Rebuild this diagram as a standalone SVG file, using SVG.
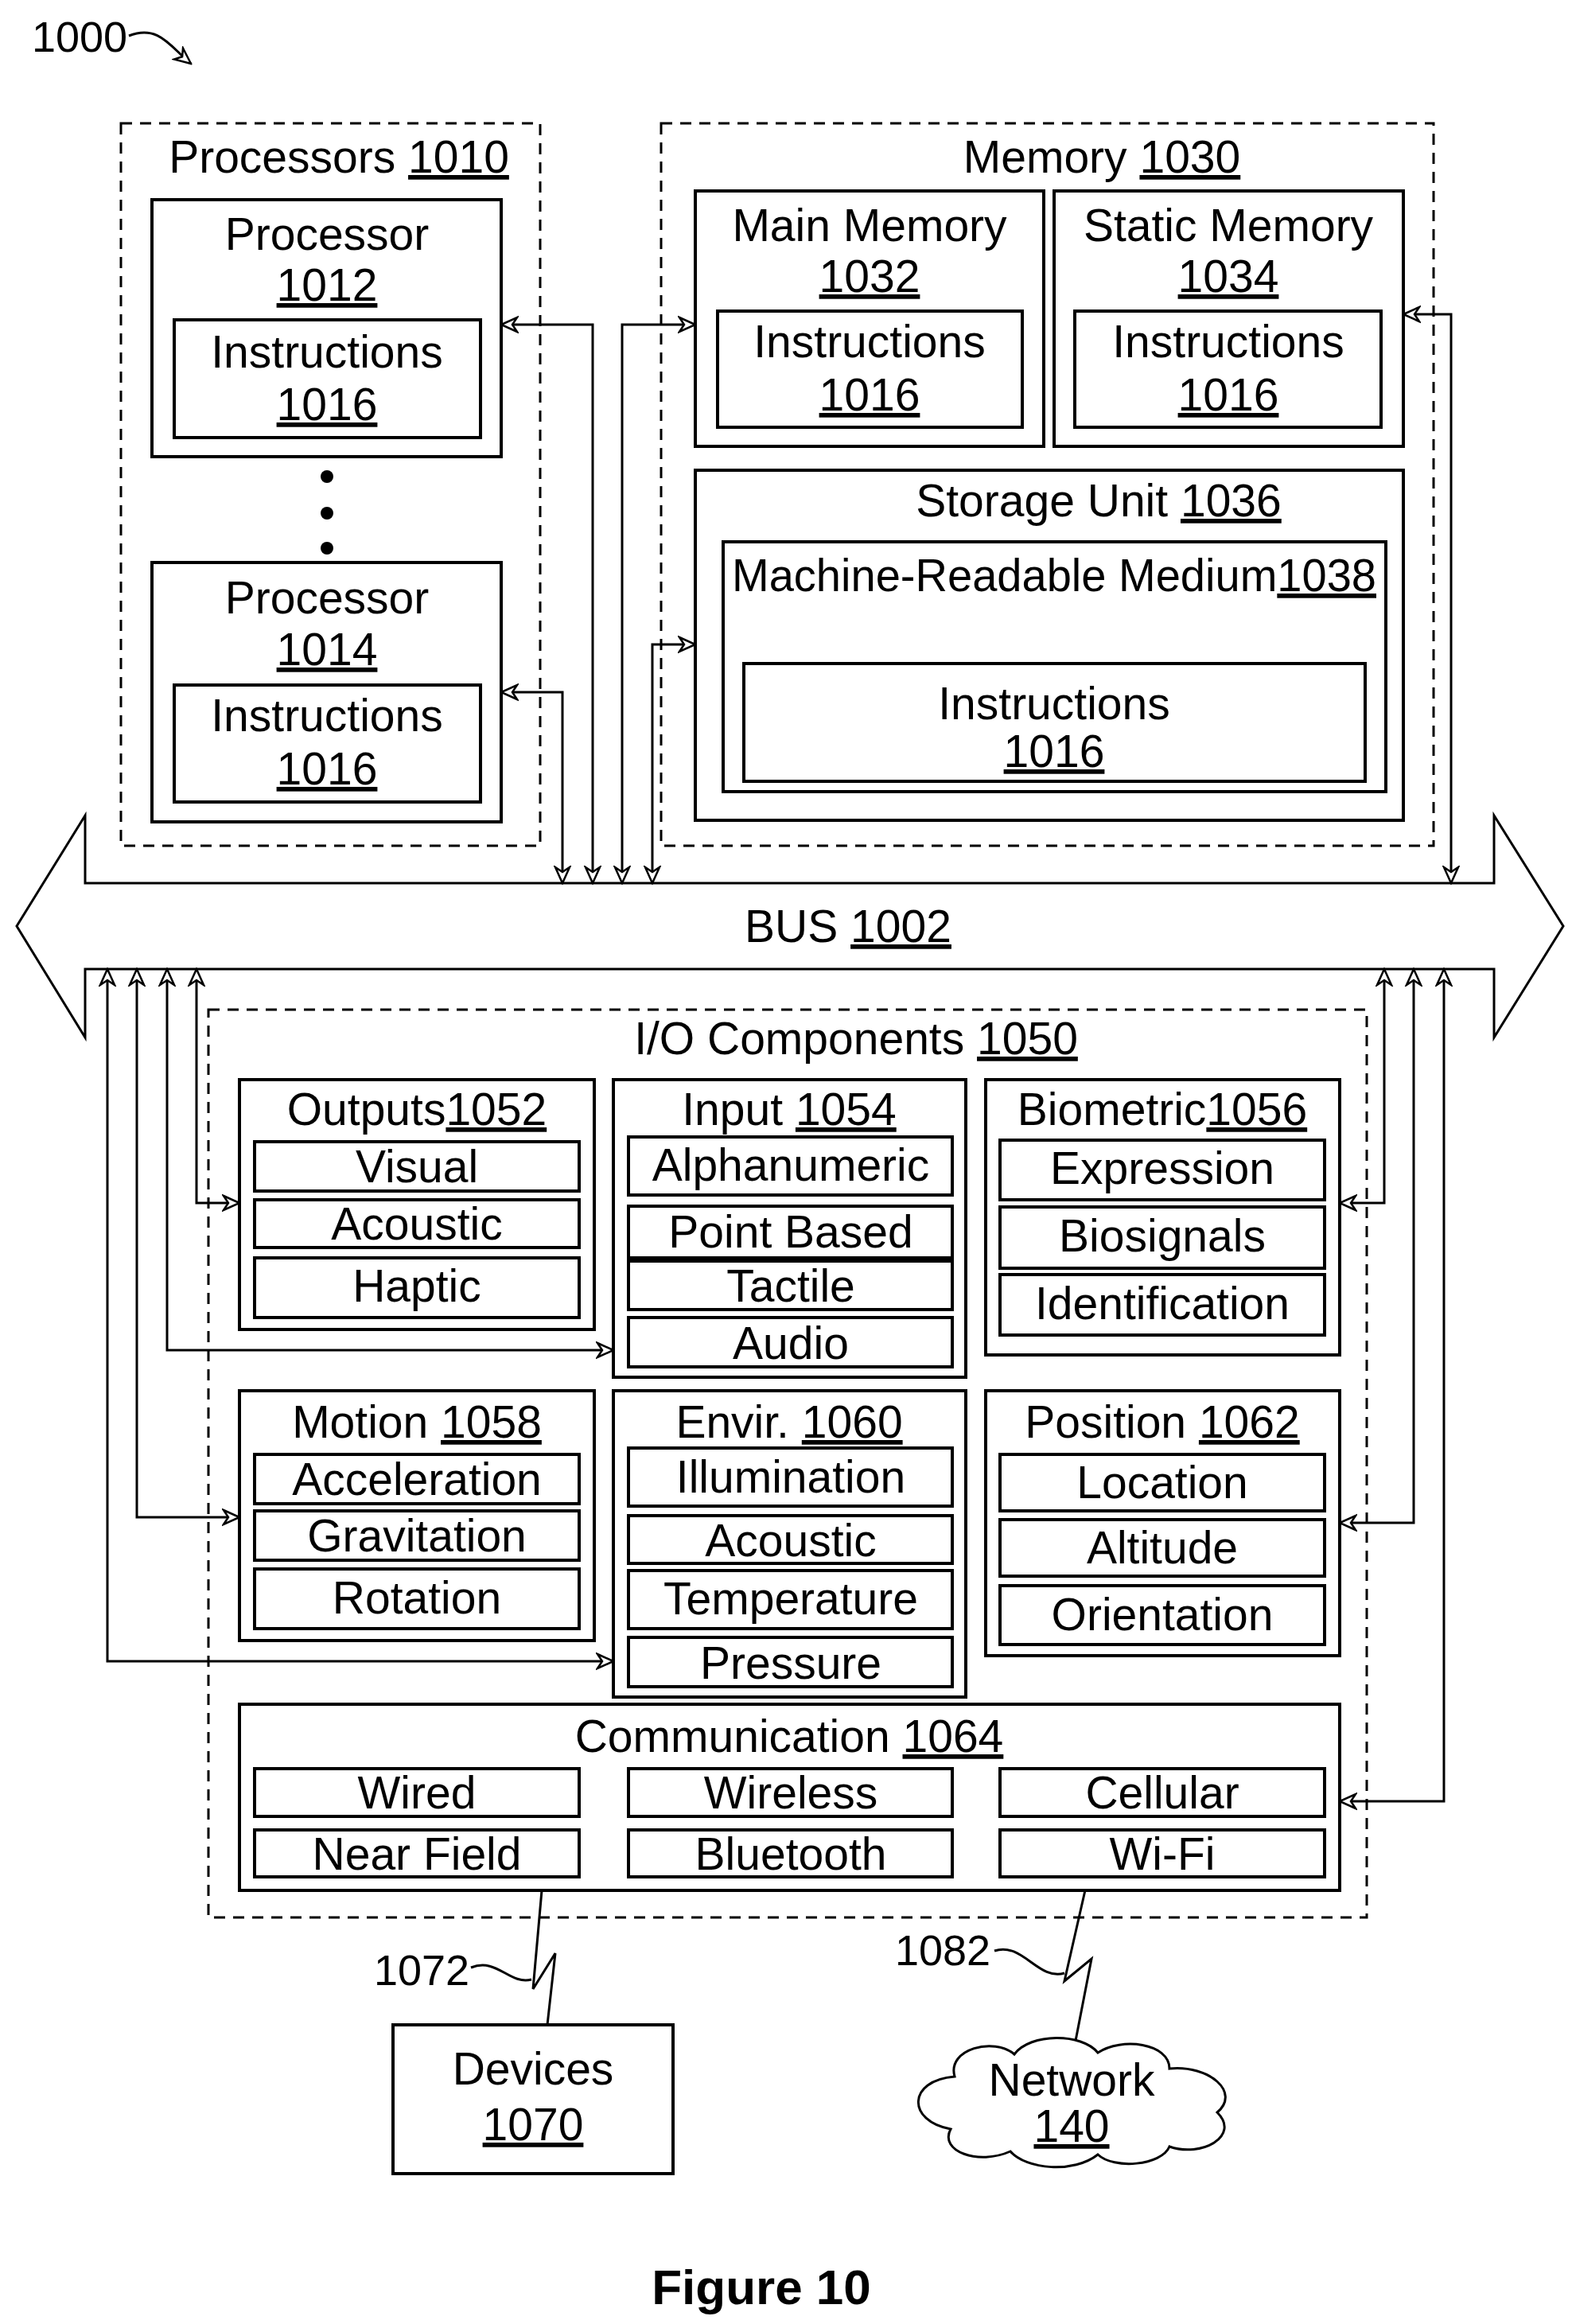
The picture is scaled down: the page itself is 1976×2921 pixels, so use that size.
<svg xmlns="http://www.w3.org/2000/svg" width="1976" height="2921" viewBox="0 0 1976 2921">
<style>
text{font-family:"Liberation Sans",Arial,sans-serif;font-size:57px;fill:#000;text-anchor:middle}
.u{text-decoration:underline}
.b{fill:none;stroke:#000;stroke-width:4}
.d{fill:none;stroke:#000;stroke-width:3;stroke-dasharray:14 10}
.c{fill:none;stroke:#000;stroke-width:3}
</style>
<defs>
<marker id="a" viewBox="0 0 24 24" refX="22" refY="12" markerWidth="24" markerHeight="24" orient="auto-start-reverse" markerUnits="userSpaceOnUse">
<path d="M2,3 L22,12 L2,21 L8,12 Z" fill="#fff" stroke="#000" stroke-width="2.5"/>
</marker>
<marker id="m" viewBox="0 0 24 24" refX="22" refY="12" markerWidth="24" markerHeight="24" orient="auto-start-reverse" markerUnits="userSpaceOnUse">
<path d="M2,3 L22,12 L2,21 L8,12 Z" fill="#fff" stroke="#000" stroke-width="2.5"/>
</marker>
</defs>
<rect width="1976" height="2921" fill="#fff"/>
<g id="fig-label">
<text x="100" y="65" style="font-size:54px">1000</text>
<path class="c" d="M162,45 C200,30 215,60 240,80" marker-end="url(#m)"/>
</g>
<g id="processors">
<rect class="d" x="152" y="155" width="527" height="908"/>
<text x="426" y="217">Processors  <tspan class="u">1010</tspan></text>
<rect class="b" x="191" y="251" width="439" height="323"/>
<text x="411" y="314">Processor</text><text x="411" y="378" class="u">1012</text>
<rect class="b" x="219" y="402" width="385" height="148"/>
<text x="411" y="462">Instructions</text><text x="411" y="528" class="u">1016</text>
<circle cx="411" cy="599" r="8"/><circle cx="411" cy="645" r="8"/><circle cx="411" cy="689" r="8"/>
<rect class="b" x="191" y="707" width="439" height="326"/>
<text x="411" y="771">Processor</text><text x="411" y="836" class="u">1014</text>
<rect class="b" x="219" y="861" width="385" height="147"/>
<text x="411" y="919">Instructions</text><text x="411" y="986" class="u">1016</text>
</g>
<g id="memory">
<rect class="d" x="831" y="155" width="971" height="908"/>
<text x="1385" y="217">Memory <tspan class="u">1030</tspan></text>
<rect class="b" x="874" y="240" width="438" height="321"/>
<text x="1093" y="303">Main Memory</text><text x="1093" y="367" class="u">1032</text>
<rect class="b" x="902" y="391" width="383" height="146"/>
<text x="1093" y="449">Instructions</text><text x="1093" y="516" class="u">1016</text>
<rect class="b" x="1325" y="240" width="439" height="321"/>
<text x="1544" y="303">Static Memory</text><text x="1544" y="367" class="u">1034</text>
<rect class="b" x="1351" y="391" width="385" height="146"/>
<text x="1544" y="449">Instructions</text><text x="1544" y="516" class="u">1016</text>
<rect class="b" x="874" y="591" width="890" height="440"/>
<text x="1381" y="649">Storage Unit <tspan class="u">1036</tspan></text>
<rect class="b" x="909" y="681" width="833" height="314"/>
<text x="1325" y="743" textLength="810" lengthAdjust="spacingAndGlyphs">Machine-Readable Medium<tspan class="u">1038</tspan></text>
<rect class="b" x="935" y="834" width="781" height="148"/>
<text x="1325" y="904">Instructions</text><text x="1325" y="964" class="u">1016</text>
</g>
<g id="bus">
<path class="c" d="M107,1110 L1878,1110 L1878,1025 L1965,1164 L1878,1304 L1878,1218 L107,1218 L107,1304 L21,1164 L107,1025 Z"/>
<text x="1066" y="1184">BUS  <tspan class="u">1002</tspan></text>
</g>
<g id="io">
<rect class="d" x="262" y="1269" width="1456" height="1141"/>
<text x="1076" y="1325">I/O Components   <tspan class="u">1050</tspan></text>
<rect class="b" x="301" y="1357" width="446" height="314"/>
<text x="524" y="1414">Outputs<tspan class="u">1052</tspan></text>
<rect class="b" x="320" y="1435" width="408" height="62"/><text x="524" y="1486">Visual</text>
<rect class="b" x="320" y="1508" width="408" height="60"/><text x="524" y="1558">Acoustic</text>
<rect class="b" x="320" y="1581" width="408" height="75"/><text x="524" y="1636">Haptic</text>
<rect class="b" x="771" y="1357" width="443" height="374"/>
<text x="992" y="1414">Input  <tspan class="u">1054</tspan></text>
<rect class="b" x="790" y="1429" width="407" height="73"/><text x="994" y="1484">Alphanumeric</text>
<rect class="b" x="790" y="1516" width="407" height="65"/><text x="994" y="1568">Point Based</text>
<rect class="b" x="790" y="1585" width="407" height="61"/><text x="994" y="1636">Tactile</text>
<rect class="b" x="790" y="1656" width="407" height="62"/><text x="994" y="1708">Audio</text>
<rect class="b" x="1239" y="1357" width="445" height="346"/>
<text x="1461" y="1414">Biometric<tspan class="u">1056</tspan></text>
<rect class="b" x="1257" y="1433" width="408" height="75"/><text x="1461" y="1488">Expression</text>
<rect class="b" x="1257" y="1517" width="408" height="77"/><text x="1461" y="1573">Biosignals</text>
<rect class="b" x="1257" y="1602" width="408" height="76"/><text x="1461" y="1658">Identification</text>
<rect class="b" x="301" y="1748" width="446" height="314"/>
<text x="524" y="1807">Motion <tspan class="u">1058</tspan></text>
<rect class="b" x="320" y="1828" width="408" height="62"/><text x="524" y="1879">Acceleration</text>
<rect class="b" x="320" y="1899" width="408" height="62"/><text x="524" y="1950">Gravitation</text>
<rect class="b" x="320" y="1972" width="408" height="75"/><text x="524" y="2028">Rotation</text>
<rect class="b" x="771" y="1748" width="443" height="385"/>
<text x="992" y="1807">Envir.  <tspan class="u">1060</tspan></text>
<rect class="b" x="790" y="1820" width="407" height="73"/><text x="994" y="1876">Illumination</text>
<rect class="b" x="790" y="1905" width="407" height="60"/><text x="994" y="1956">Acoustic</text>
<rect class="b" x="790" y="1974" width="407" height="73"/><text x="994" y="2029">Temperature</text>
<rect class="b" x="790" y="2058" width="407" height="62"/><text x="994" y="2110">Pressure</text>
<rect class="b" x="1239" y="1748" width="445" height="333"/>
<text x="1461" y="1807">Position  <tspan class="u">1062</tspan></text>
<rect class="b" x="1257" y="1828" width="408" height="71"/><text x="1461" y="1883">Location</text>
<rect class="b" x="1257" y="1910" width="408" height="71"/><text x="1461" y="1965">Altitude</text>
<rect class="b" x="1257" y="1993" width="408" height="74"/><text x="1461" y="2049">Orientation</text>
<rect class="b" x="301" y="2142" width="1383" height="234"/>
<text x="992" y="2202">Communication   <tspan class="u">1064</tspan></text>
<rect class="b" x="320" y="2223" width="408" height="60"/><text x="524" y="2273">Wired</text>
<rect class="b" x="790" y="2223" width="407" height="60"/><text x="994" y="2273">Wireless</text>
<rect class="b" x="1257" y="2223" width="408" height="60"/><text x="1461" y="2273">Cellular</text>
<rect class="b" x="320" y="2300" width="408" height="59"/><text x="524" y="2350">Near Field</text>
<rect class="b" x="790" y="2300" width="407" height="59"/><text x="994" y="2350">Bluetooth</text>
<rect class="b" x="1257" y="2300" width="408" height="59"/><text x="1461" y="2350">Wi-Fi</text>
</g>
<g id="devices">
<rect class="b" x="494" y="2545" width="352" height="187"/>
<text x="670" y="2620">Devices</text><text x="670" y="2690" class="u">1070</text>
</g>
<g id="network">
<path class="c" d="M1200,2610 C1190,2575 1250,2560 1275,2582 C1295,2555 1360,2555 1380,2580 C1410,2560 1470,2568 1470,2600 C1520,2595 1560,2630 1530,2655 C1560,2685 1510,2712 1470,2698 C1460,2722 1400,2727 1380,2708 C1350,2732 1290,2727 1270,2704 C1230,2722 1180,2704 1195,2676 C1140,2666 1140,2615 1200,2610 Z"/>
<text x="1347" y="2634">Network</text><text x="1347" y="2692" class="u">140</text>
</g>
<g id="connectors">
<path class="c" d="M707,1110 L707,870 L630,870" marker-start="url(#a)" marker-end="url(#a)"/>
<path class="c" d="M745,1110 L745,408 L630,408" marker-start="url(#a)" marker-end="url(#a)"/>
<path class="c" d="M782,1110 L782,408 L874,408" marker-start="url(#a)" marker-end="url(#a)"/>
<path class="c" d="M820,1110 L820,810 L874,810" marker-start="url(#a)" marker-end="url(#a)"/>
<path class="c" d="M1824,1110 L1824,395 L1764,395" marker-start="url(#a)" marker-end="url(#a)"/>
<path class="c" d="M247,1218 L247,1512 L301,1512" marker-start="url(#a)" marker-end="url(#a)"/>
<path class="c" d="M210,1218 L210,1697 L771,1697" marker-start="url(#a)" marker-end="url(#a)"/>
<path class="c" d="M172,1218 L172,1907 L301,1907" marker-start="url(#a)" marker-end="url(#a)"/>
<path class="c" d="M135,1218 L135,2088 L771,2088" marker-start="url(#a)" marker-end="url(#a)"/>
<path class="c" d="M1740,1218 L1740,1512 L1684,1512" marker-start="url(#a)" marker-end="url(#a)"/>
<path class="c" d="M1777,1218 L1777,1914 L1684,1914" marker-start="url(#a)" marker-end="url(#a)"/>
<path class="c" d="M1815,1218 L1815,2264 L1684,2264" marker-start="url(#a)" marker-end="url(#a)"/>
<path class="c" d="M681,2376 L670,2500 L698,2455 L688,2545"/>
<path class="c" d="M1364,2376 L1338,2490 L1372,2462 L1352,2565"/>
<text x="530" y="2495" style="font-size:54px">1072</text>
<path class="c" d="M592,2473 C625,2460 640,2495 668,2488"/>
<text x="1185" y="2470" style="font-size:54px">1082</text>
<path class="c" d="M1250,2452 C1285,2440 1305,2490 1338,2480"/>
</g>
<text x="957" y="2896" style="font-size:62px;font-weight:bold">Figure 10</text>
</svg>
